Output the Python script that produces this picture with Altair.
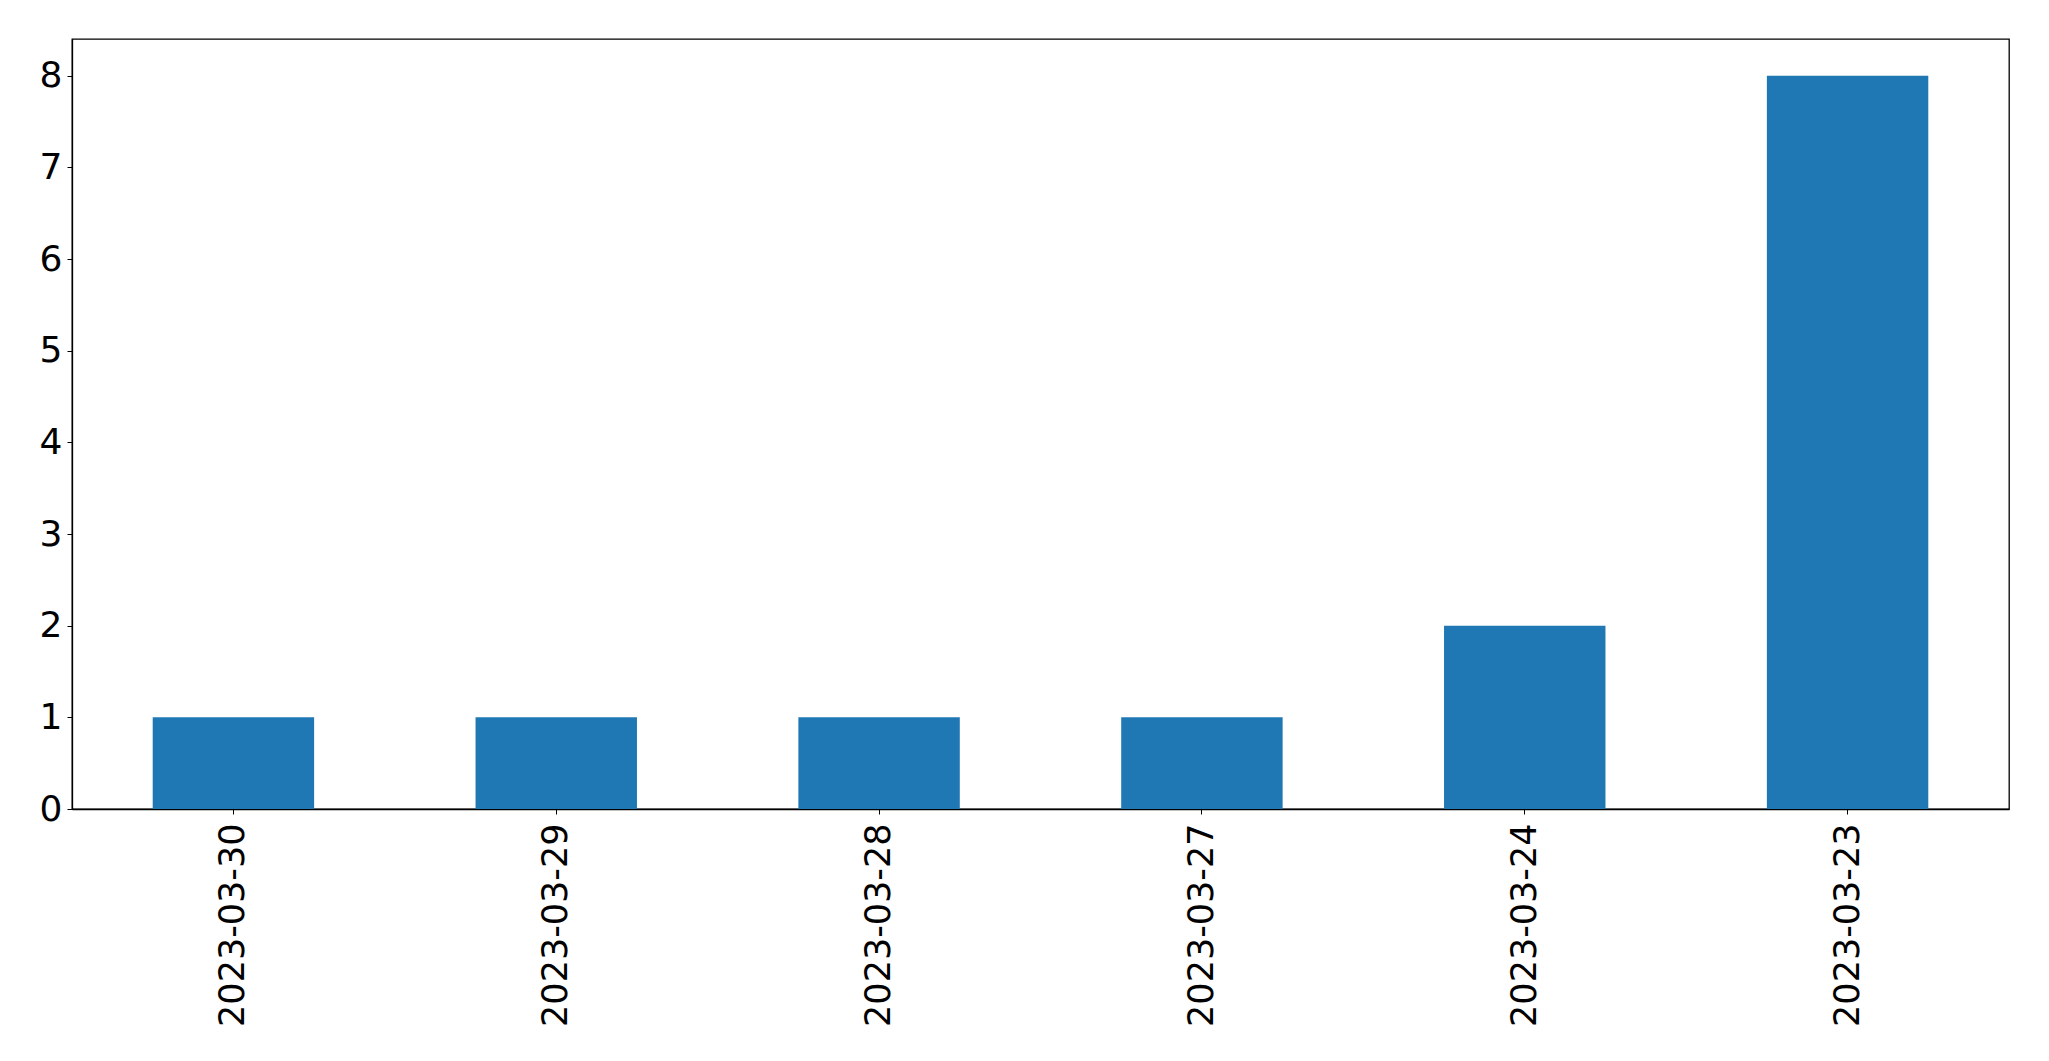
import altair as alt
import pandas as pd

dates = ["2023-03-30", "2023-03-29", "2023-03-28", "2023-03-27", "2023-03-24", "2023-03-23"]
counts = [1, 1, 1, 1, 2, 8]
y_ticks = [0, 1, 2, 3, 4, 5, 6, 7, 8]

df = pd.DataFrame({"date": dates, "count": counts})

chart = (
    alt.Chart(df)
    .mark_bar(color="#1f77b4")
    .encode(
        x=alt.X(
            "date:N",
            sort=dates,
            title=None,
            scale=alt.Scale(paddingInner=0.5, paddingOuter=0.25),
            axis=alt.Axis(
                labelAngle=270,
                labelFont="DejaVu Sans",
                labelFontSize=35,
                labelColor="black",
                labelPadding=9,
                labelLimit=0,
                tickColor="black",
                tickSize=5,
                domainColor="black",
                domainWidth=1.3,
                grid=False,
            ),
        ),
        y=alt.Y(
            "count:Q",
            title=None,
            scale=alt.Scale(domain=[0, 8.4], nice=False),
            axis=alt.Axis(
                values=y_ticks,
                labelFont="DejaVu Sans",
                labelFontSize=36,
                labelColor="black",
                labelPadding=5,
                tickColor="black",
                tickSize=5,
                domainColor="black",
                domainWidth=1.3,
                grid=False,
            ),
        ),
    )
    .properties(
        width=1937,
        height=770,
        autosize=alt.AutoSizeParams(type="none"),
        padding={"left": 64, "top": 31, "right": 30, "bottom": 230},
        background="white",
    )
    .configure_view(stroke="black", strokeWidth=1.3)
)

chart.save("out.html", embed_options={"renderer": "svg", "actions": False})
